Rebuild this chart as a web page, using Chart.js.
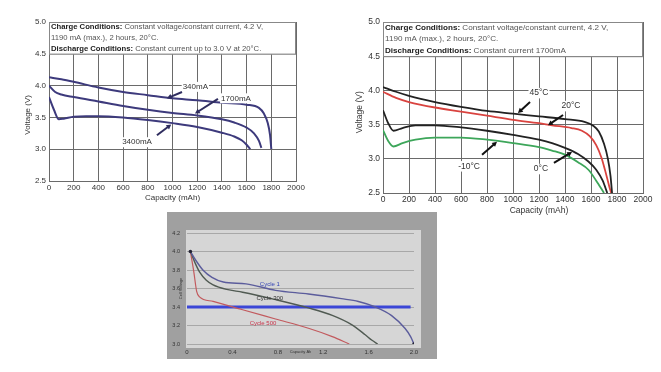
<!DOCTYPE html>
<html>
<head>
<meta charset="utf-8">
<script src="https://cdn.jsdelivr.net/npm/chart.js@4.4.1/dist/chart.umd.min.js"></script>
<style>
  body { margin: 0; background: #fff; width: 661px; height: 372px; position: relative; overflow: hidden; }
  canvas { position: absolute; }
</style>
</head>
<body>
<canvas id="rateChart" width="310" height="205" style="left:0;top:0"></canvas>
<canvas id="tempChart" width="331" height="218" style="left:330px;top:0"></canvas>
<canvas id="cycleChart" width="270" height="147" style="left:167px;top:212px"></canvas>
<script>
// ---- discharge rate curves (capacity mAh / voltage V) ----
const cap340 = [0, 100, 200, 400, 600, 800, 1000, 1200, 1400, 1600, 1700, 1740, 1770, 1790, 1800];
const volt340 = [4.13, 4.10, 4.06, 3.97, 3.90, 3.85, 3.80, 3.77, 3.73, 3.70, 3.65, 3.56, 3.42, 3.22, 3.0];
const cap1700 = [0, 50, 100, 200, 400, 600, 800, 1000, 1200, 1400, 1500, 1600, 1660, 1700, 1720];
const volt1700 = [4.00, 3.90, 3.86, 3.82, 3.75, 3.68, 3.62, 3.57, 3.53, 3.47, 3.42, 3.34, 3.25, 3.13, 3.02];
const cap3400 = [0, 40, 80, 120, 200, 300, 400, 600, 800, 1000, 1200, 1400, 1500, 1560, 1600, 1630];
const volt3400 = [3.82, 3.62, 3.47, 3.48, 3.51, 3.52, 3.52, 3.50, 3.46, 3.41, 3.35, 3.26, 3.20, 3.14, 3.07, 3.0];

// ---- temperature curves ----
const cap45 = [0, 100, 200, 400, 600, 800, 1000, 1200, 1400, 1550, 1620, 1660, 1700, 1730, 1750, 1762];
const volt45 = [4.05, 3.98, 3.92, 3.83, 3.76, 3.70, 3.66, 3.62, 3.58, 3.54, 3.48, 3.40, 3.22, 3.00, 2.75, 2.5];
const cap20 = [0, 100, 200, 400, 600, 800, 1000, 1200, 1300, 1450, 1530, 1590, 1640, 1680, 1710, 1740, 1755];
const volt20 = [3.98, 3.89, 3.83, 3.75, 3.69, 3.63, 3.57, 3.52, 3.49, 3.45, 3.41, 3.33, 3.20, 3.02, 2.82, 2.60, 2.5];
const cap0 = [0, 40, 80, 150, 250, 400, 600, 800, 1000, 1200, 1300, 1400, 1500, 1580, 1640, 1690, 1725];
const volt0 = [3.71, 3.52, 3.41, 3.45, 3.49, 3.49, 3.46, 3.41, 3.35, 3.28, 3.23, 3.16, 3.07, 2.96, 2.84, 2.68, 2.5];
const capM10 = [0, 40, 80, 150, 250, 400, 600, 800, 1000, 1200, 1300, 1400, 1500, 1580, 1640, 1700];
const voltM10 = [3.42, 3.26, 3.18, 3.23, 3.28, 3.31, 3.31, 3.28, 3.23, 3.17, 3.12, 3.06, 2.95, 2.84, 2.68, 2.5];

// ---- cycle life curves (capacity Ah) ----
const ahCycle1 = [0.03, 0.08, 0.14, 0.22, 0.32, 0.52, 0.78, 1.07, 1.36, 1.51, 1.66, 1.80, 1.92, 1.97, 2.0];
const vCycle1 = [4.0, 3.9, 3.8, 3.72, 3.67, 3.65, 3.58, 3.54, 3.49, 3.46, 3.40, 3.31, 3.17, 3.08, 3.0];
const ahCycle300 = [0.03, 0.07, 0.11, 0.17, 0.23, 0.35, 0.49, 0.78, 1.07, 1.28, 1.45, 1.57, 1.63, 1.68];
const vCycle300 = [4.0, 3.88, 3.78, 3.69, 3.64, 3.59, 3.56, 3.48, 3.39, 3.31, 3.21, 3.10, 3.04, 3.0];
const ahCycle500 = [0.03, 0.06, 0.085, 0.11, 0.23, 0.49, 0.78, 1.07, 1.28, 1.43];
const vCycle500 = [4.0, 3.78, 3.57, 3.51, 3.46, 3.37, 3.27, 3.17, 3.08, 3.0];
const ahCutoff = [0, 1.97];
const vCutoff = [3.4, 3.4];

const chargeLines = [
  [['Charge Conditions:', true], [' Constant voltage/constant current, 4.2 V,', false]],
  [['1190 mA (max.), 2 hours, 20\u00b0C.', false]]
];
const rateNote = chargeLines.concat([[['Discharge Conditions:', true], [' Constant current up to 3.0 V at 20\u00b0C.', false]]]);
const tempNote = chargeLines.concat([[['Discharge Conditions:', true], [' Constant current 1700mA', false]]]);

const FONT = '"Liberation Sans", Arial, sans-serif';
Chart.defaults.font.family = FONT;
Chart.defaults.color = '#333';

function pts(xs, ys) { return xs.map((x, i) => ({ x: x, y: ys[i] })); }

function drawArrow(ctx, x0, y0, x1, y1, color) {
  const ang = Math.atan2(y1 - y0, x1 - x0);
  const head = 5.5;
  ctx.strokeStyle = color;
  ctx.fillStyle = color;
  ctx.lineWidth = 2;
  ctx.beginPath();
  ctx.moveTo(x0, y0);
  ctx.lineTo(x1 - Math.cos(ang) * head * 0.7, y1 - Math.sin(ang) * head * 0.7);
  ctx.stroke();
  ctx.beginPath();
  ctx.moveTo(x1, y1);
  ctx.lineTo(x1 - head * Math.cos(ang - 0.5), y1 - head * Math.sin(ang - 0.5));
  ctx.lineTo(x1 - head * Math.cos(ang + 0.5), y1 - head * Math.sin(ang + 0.5));
  ctx.closePath();
  ctx.fill();
}

// draws the conditions box, axis titles, curve labels and arrows
const notesPlugin = {
  id: 'notes',
  beforeDraw(chart, args, opts) {
    if (!opts.panel) return;
    const { ctx, chartArea: a } = chart;
    ctx.save();
    ctx.fillStyle = opts.panel.outer;
    ctx.fillRect(0, 0, chart.width, chart.height);
    ctx.fillStyle = opts.panel.inner;
    ctx.fillRect(a.left - 1, a.top - 3, a.right - a.left + 8, a.bottom - a.top + 7);
    ctx.restore();
  },
  beforeDatasetsDraw(chart, args, opts) {
    if (!opts.box) return;
    const { ctx, chartArea: a, scales: { y } } = chart;
    const top = y.getPixelForValue(opts.box.from);
    const bottom = y.getPixelForValue(opts.box.to);
    ctx.save();
    ctx.fillStyle = '#fff';
    ctx.fillRect(a.left, top, a.right - a.left, bottom - top);
    ctx.strokeStyle = '#888';
    ctx.lineWidth = 1;
    ctx.strokeRect(a.left + 0.5, top + 0.5, a.right - a.left - 1, bottom - top);
    const lh = (bottom - top) / opts.box.lines.length;
    ctx.textBaseline = 'middle';
    opts.box.lines.forEach((line, i) => {
      let tx = a.left + 2;
      const ty = top + lh * (i + 0.5);
      line.forEach(([t, bold]) => {
        ctx.font = (bold ? 'bold ' : '') + opts.box.size + 'px ' + FONT;
        ctx.fillStyle = bold ? '#222' : '#555';
        ctx.fillText(t, tx, ty);
        tx += ctx.measureText(t).width;
      });
    });
    ctx.restore();
  },
  afterDatasetsDraw(chart, args, opts) {
    const { ctx, chartArea: a, scales: { x, y } } = chart;
    ctx.save();
    ctx.textAlign = 'center';
    ctx.textBaseline = 'middle';
    (opts.labels || []).forEach(l => {
      ctx.font = opts.labelSize + 'px ' + FONT;
      const px = x.getPixelForValue(l.at[0]);
      const py = y.getPixelForValue(l.at[1]);
      if (opts.labelBg) {
        const w = ctx.measureText(l.text).width;
        ctx.fillStyle = opts.labelBg;
        ctx.fillRect(px - w / 2 - 1, py - opts.labelSize / 2 - 1, w + 2, opts.labelSize + 2);
      }
      ctx.fillStyle = l.color || '#333';
      ctx.fillText(l.text, px, py);
      if (l.from) {
        drawArrow(ctx, x.getPixelForValue(l.from[0]), y.getPixelForValue(l.from[1]),
          x.getPixelForValue(l.to[0]), y.getPixelForValue(l.to[1]), opts.arrowColor);
      }
    });
    const t = opts.titles;
    if (t) {
      ctx.fillStyle = '#333';
      ctx.font = t.size + 'px ' + FONT;
      ctx.fillText(t.x, x.getPixelForValue(t.xAt), a.bottom + t.xGap);
      ctx.translate(a.left - t.yGap, y.getPixelForValue(t.yAt));
      ctx.rotate(-Math.PI / 2);
      ctx.fillText(t.y, 0, 0);
    }
    ctx.restore();
  }
};

function voltChart(id, sets, note, labels, o) {
  return new Chart(document.getElementById(id), {
    type: 'line',
    data: { datasets: sets },
    plugins: [notesPlugin],
    options: {
      responsive: false,
      animation: false,
      layout: { padding: { top: 22, right: o.right, left: 0, bottom: 0 } },
      elements: { point: { radius: 0 }, line: { borderWidth: 1.8, cubicInterpolationMode: 'monotone' } },
      scales: {
        x: {
          type: 'linear', min: 0, max: 2000,
          afterFit: s => { s.height = o.xh; },
          grid: { color: '#6a6a6a', drawTicks: false },
          border: { color: '#6a6a6a' },
          ticks: { stepSize: 200, autoSkip: false, maxRotation: 0, padding: 2, font: { size: o.tick },
                   callback: v => String(v) }
        },
        y: {
          min: 2.5, max: 5.0,
          afterFit: s => { s.width = o.yw; },
          grid: { color: '#6a6a6a', drawTicks: false },
          border: { color: '#6a6a6a' },
          ticks: { stepSize: 0.5, padding: 3, font: { size: o.tick }, callback: v => v.toFixed(1) }
        }
      },
      plugins: {
        legend: { display: false },
        tooltip: { enabled: false },
        notes: {
          box: { from: 5.0, to: 4.5, lines: note, size: o.note },
          labels: labels, labelSize: o.label, labelBg: '#fff', arrowColor: o.arrow,
          titles: o.titles
        }
      }
    }
  });
}

const navy = '#3d3a7c';
voltChart('rateChart', [
  { data: pts(cap340, volt340), borderColor: navy, borderWidth: 2 },
  { data: pts(cap1700, volt1700), borderColor: navy, borderWidth: 2 },
  { data: pts(cap3400, volt3400), borderColor: navy, borderWidth: 2 }
], rateNote, [
  { text: '340mA', at: [1185, 3.98], from: [1077, 3.90], to: [955, 3.80] },
  { text: '1700mA', at: [1514, 3.80], from: [1368, 3.79], to: [1182, 3.56] },
  { text: '3400mA', at: [713, 3.11], from: [874, 3.22], to: [990, 3.39] }
], { right: 14, xh: 24, yw: 49, tick: 8, note: 7.7, label: 8, arrow: '#2e2c5e',
     titles: { x: 'Capacity (mAh)', xAt: 1000, xGap: 17, y: 'Voltage (V)', yAt: 3.54, yGap: 21, size: 8 } });

voltChart('tempChart', [
  { data: pts(cap45, volt45), borderColor: '#222' },
  { data: pts(cap20, volt20), borderColor: '#d9433f' },
  { data: pts(cap0, volt0), borderColor: '#222' },
  { data: pts(capM10, voltM10), borderColor: '#3da65a' }
], tempNote, [
  { text: '45\u00b0C', at: [1200, 3.96], from: [1131, 3.83], to: [1038, 3.67] },
  { text: '20\u00b0C', at: [1446, 3.77], from: [1385, 3.64], to: [1269, 3.49] },
  { text: '-10\u00b0C', at: [662, 2.89], from: [762, 3.06], to: [877, 3.25] },
  { text: '0\u00b0C', at: [1215, 2.85], from: [1315, 2.94], to: [1454, 3.10] }
], { right: 18, xh: 25, yw: 53, tick: 8.5, note: 8.1, label: 8.5, arrow: '#111',
     titles: { x: 'Capacity (mAh)', xAt: 1200, xGap: 18, y: 'Voltage (V)', yAt: 3.68, yGap: 23, size: 8.5 } });

// ---- cycle life chart ----
new Chart(document.getElementById('cycleChart'), {
  type: 'line',
  data: {
    datasets: [
      { data: pts(ahCycle1, vCycle1), borderColor: '#5b5c9c', borderWidth: 1.4,
        pointRadius: c => (c.dataIndex === 0 || c.dataIndex === ahCycle1.length - 1) ? 1.8 : 0,
        pointBackgroundColor: '#223', pointBorderWidth: 0 },
      { data: pts(ahCycle300, vCycle300), borderColor: '#505a52', borderWidth: 1.4 },
      { data: pts(ahCycle500, vCycle500), borderColor: '#c25a5e', borderWidth: 1.2 },
      { data: pts(ahCutoff, vCutoff), borderColor: '#3b46d6', borderWidth: 3, cubicInterpolationMode: 'default' }
    ]
  },
  plugins: [notesPlugin],
  options: {
    responsive: false,
    animation: false,
    layout: { padding: { top: 21, right: 23, left: 0, bottom: 0 } },
    elements: { point: { radius: 0 }, line: { cubicInterpolationMode: 'monotone' } },
    scales: {
      x: {
        type: 'linear', min: 0, max: 2.0,
        afterFit: s => { s.height = 15; },
        grid: { display: false, drawTicks: false },
        border: { display: false },
        ticks: { stepSize: 0.4, padding: 5, autoSkip: false, maxRotation: 0, color: '#333',
                 font: { size: 6 }, callback: v => v === 0 ? '0' : v.toFixed(1) }
      },
      y: {
        min: 3.0, max: 4.2,
        afterFit: s => { s.width = 20; },
        grid: { color: '#a8a8a8', drawTicks: false },
        border: { display: false },
        ticks: { stepSize: 0.2, padding: 7, color: '#333', font: { size: 5.5 }, callback: v => v.toFixed(1) }
      }
    },
    plugins: {
      legend: { display: false },
      tooltip: { enabled: false },
      notes: {
        panel: { outer: '#a0a0a0', inner: '#d6d6d6' },
        labels: [
          { text: 'Cycle 1', at: [0.73, 3.65], color: '#3444b4' },
          { text: 'Cycle 300', at: [0.73, 3.49], color: '#333' },
          { text: 'Cycle 500', at: [0.67, 3.22], color: '#c8334a' }
        ],
        labelSize: 6,
        titles: { x: 'Capacity Ah', xAt: 1.0, xGap: 8, y: 'Cell Voltage', yAt: 3.6, yGap: 6, size: 4 }
      }
    }
  }
});
</script>
</body>
</html>
